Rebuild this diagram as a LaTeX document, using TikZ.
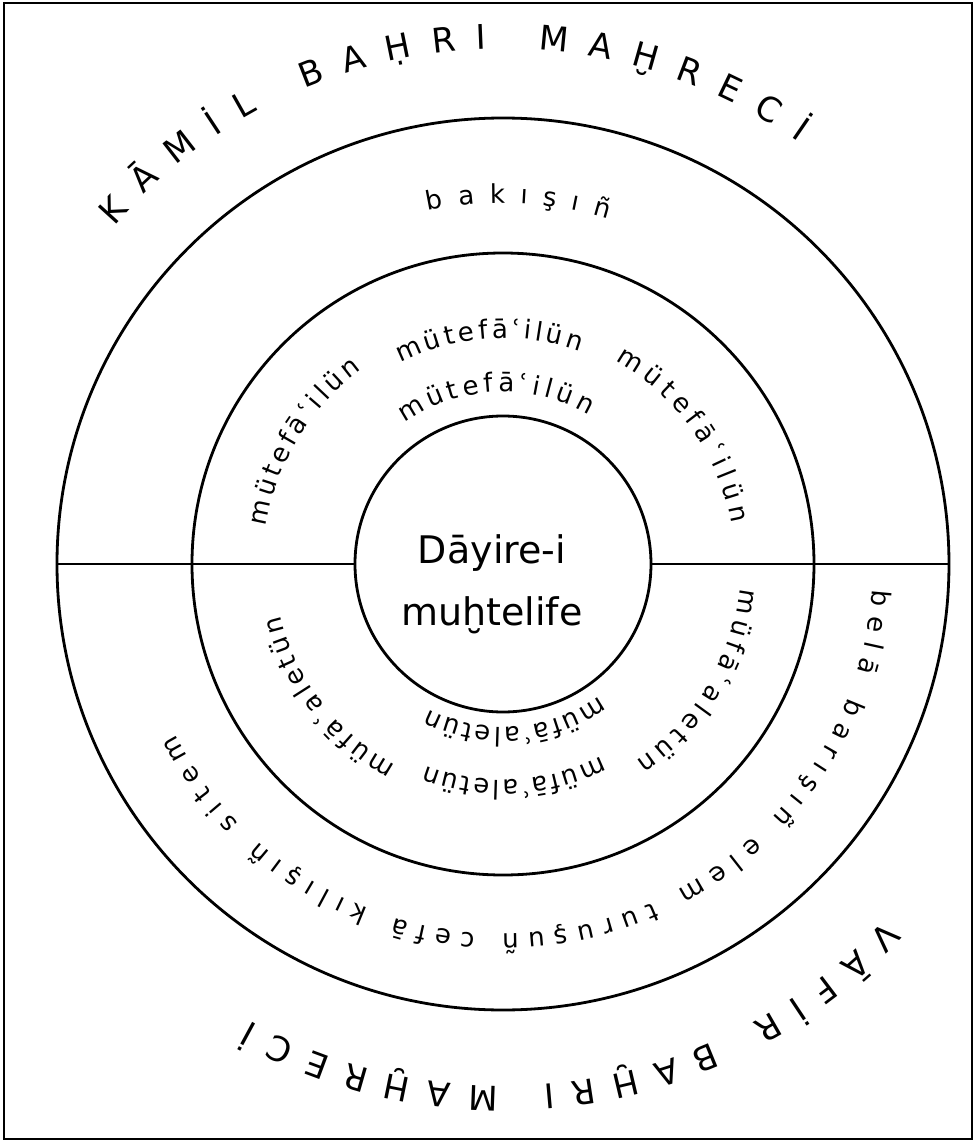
\documentclass[tikz,border=0pt]{standalone}
\usepackage{fontspec}
\setmainfont{DejaVu Sans}
\usetikzlibrary{decorations.text,positioning}
\newcommand\bigcaps{\fontsize{17}{20}\selectfont}
\newcommand\ringword{\fontsize{13}{15}\selectfont}

\begin{document}
\begin{tikzpicture}[x=0.5pt, y=0.5pt,
  ring/.style={draw, circle, line width=1.4pt, inner sep=0pt, outer sep=0pt},
  arctext/.style={decorate, decoration={text along path, text align={fit to path}, text={#1}}}]
  \useasboundingbox (-503,-578) rectangle (473,564);
  \draw[line width=1pt] (-499,-575) rectangle (469,561);
  \node[ring, minimum size=446pt] (outer) at (0,0) {};
  \node[ring, minimum size=311pt] (middle) at (0,0) {};
  \node[ring, minimum size=148pt] (inner) at (0,0) {};
  \draw[line width=1.4pt] (outer.west) -- (inner.west);
  \draw[line width=1.4pt] (inner.east) -- (outer.east);
  \node[font=\fontsize{19}{22}\selectfont, anchor=base] (dayire) at (-11,1) {Dāyire-i};
  \node[font=\fontsize{19}{22}\selectfont, anchor=base] (muhtelife) at (-11,-61) {muḫtelife};
  % outer labels
  \path[arctext={|\bigcaps|KĀMİL BAḤRI MAḪRECİ}] (0,0) ++(139:515) arc[start angle=139, end angle=55, radius=515];
  \path[arctext={|\bigcaps|VĀFİR BAḪRI MAḪRECİ}] (0,0) ++(-43:522) arc[start angle=-43, end angle=-119, radius=522];
  % outer ring
  \path[arctext={|\ringword|bakışıñ}] (0,0) ++(102:361) arc[start angle=102, end angle=73, radius=361];
  \path[arctext={|\ringword|belā barışıñ elem turuşuñ cefā kılışıñ sitem}] (0,0) ++(-4:370) arc[start angle=-4, end angle=-152.5, radius=370];
  % middle ring
  \foreach \from/\to/\rad in {171/126/240, 117/70/226, 61/10/232}
    \path[arctext={|\ringword|mütefāʿilün}] (0,0) ++(\from:\rad) arc[start angle=\from, end angle=\to, radius=\rad];
  \path[arctext={|\ringword|mütefāʿilün}] (0,0) ++(125:172) arc[start angle=125, end angle=60, radius=172];
  \foreach \from/\to/\rad in {-6/-56/238, -63/-111/216, -118/-167/228}
    \path[arctext={|\ringword|müfāʿaletün}] (0,0) ++(\from:\rad) arc[start angle=\from, end angle=\to, radius=\rad];
  \path[arctext={|\ringword|müfāʿaletün}] (0,0) ++(-54:163) arc[start angle=-54, end angle=-117, radius=163];
\end{tikzpicture}
\end{document}
